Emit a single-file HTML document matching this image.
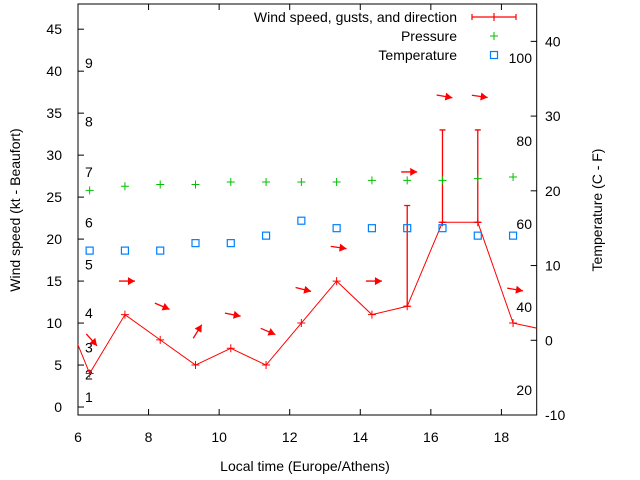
<!DOCTYPE html>
<html><head><meta charset="utf-8"><style>
body{margin:0;background:#fff}
svg{display:block;font-family:"Liberation Sans",sans-serif}
</style></head><body>
<svg id="chart" width="640" height="480" xmlns="http://www.w3.org/2000/svg"></svg>
<script>
const times=[5.33,6.33,7.33,8.33,9.33,10.33,11.33,12.33,13.33,14.33,15.33,16.33,17.33,18.33,19.33];
const wind=[14.3,4,11,8,5,7,5,10,15,11,12,22,22,10,9.1];
const gusts=[null,null,null,null,null,null,null,null,null,null,24,33,33,null,null];
const dirAngles=[null,48,0,23,-58,11,23,14,8,0,0,10,8,10,null];
const pressure=[null,25.8,26.3,26.5,26.5,26.8,26.8,26.8,26.8,27.0,27.0,27.0,27.2,27.4,null];
const temps=[null,12,12,12,13,13,14,16,15,15,15,15,14,14,null];
const xTicks=[6,8,10,12,14,16,18];
const yTicks=[0,5,10,15,20,25,30,35,40,45];
const tTicks=[-10,0,10,20,30,40];
const fTicks=[20,40,60,80,100];
const beaufort=[[1,1.2],[2,3.9],[3,7.1],[4,11.2],[5,17],[6,22],[7,28],[8,34],[9,41]];

const L=78,R=536.7,T=4,B=415;
const X=t=>L+(t-6)/(19-6)*(R-L);
const Y=v=>B-(v+0.95)/(48+0.95)*(B-T);
const TY=c=>B-(c+10)/55*(B-T);
const svg=document.getElementById('chart');
const NS='http://www.w3.org/2000/svg';
function mk(tag,attrs,parent){const e=document.createElementNS(NS,tag);for(const k in attrs)e.setAttribute(k,attrs[k]);(parent||svg).appendChild(e);return e;}
function txt(s,x,y,anchor,name,extra){const e=mk('text',Object.assign({x:x,y:y,'text-anchor':anchor,'font-size':14,fill:'#000'},extra||{}));e.textContent=s;return e;}

// clip
const defs=mk('defs',{});const cp=mk('clipPath',{id:'c'},defs);mk('rect',{x:L,y:T,width:R-L,height:B-T},cp);

// axes ticks
xTicks.forEach(t=>{const x=X(t);
 mk('line',{x1:x,y1:B,x2:x,y2:B-6,stroke:'#000'});mk('line',{x1:x,y1:T,x2:x,y2:T+6,stroke:'#000'});
 txt(String(t),x,442,'middle','x-tick-label');});
yTicks.forEach(v=>{const y=Y(v);mk('line',{x1:L,y1:y,x2:L+6,y2:y,stroke:'#000'});
 txt(String(v),62,y+5,'end','y-tick-label');});
tTicks.forEach(c=>{const y=TY(c);mk('line',{x1:R,y1:y,x2:R-6,y2:y,stroke:'#000'});
 txt(String(c),545,y+5,'start','temp-tick-label');});
fTicks.forEach(f=>{txt(String(f),532,TY((f-32)*5/9)+5,'end','fahrenheit-label');});
beaufort.forEach(b=>{txt(String(b[0]),85,Y(b[1])+5,'start','beaufort-label');});

const frame=mk('rect',{x:L,y:T,width:R-L,height:B-T,fill:'none',stroke:'#000'});



txt('Wind speed (kt - Beaufort)',0,0,'middle','y-axis-title',{transform:'translate(20,210) rotate(-90)'});
txt('Temperature (C - F)',0,0,'middle','y2-axis-title',{transform:'translate(602,210) rotate(-90)'});
txt('Local time (Europe/Athens)',305,471,'middle','x-axis-title');

const g=mk('g',{'clip-path':'url(#c)'});


// wind line
const pts=times.map((t,i)=>X(t)+','+Y(wind[i])).join(' ');
const wl=mk('polyline',{points:pts,fill:'none',stroke:'#f00','stroke-width':1},g);


times.forEach((t,i)=>{const x=X(t),y=Y(wind[i]);
 const p=mk('path',{d:`M${x-4},${y}h8M${x},${y-4}v8`,stroke:'#f00'},g);
 
 
 if(gusts[i]!=null){const yg=Y(gusts[i]);
  const e=mk('path',{d:`M${x},${y}V${yg}M${x-3},${yg}h6M${x-3},${y}h6`,stroke:'#f00','stroke-width':1.3},g);
  
  }
 if(dirAngles[i]!=null){const base=Math.max(wind[i],gusts[i]||0)+4;const cx=x+2,cy=Y(base);
  const a=dirAngles[i]*Math.PI/180,c=Math.cos(a),s=Math.sin(a);
  const x1=cx-8*c,y1=cy-8*s,x2=cx+8*c,y2=cy+8*s;
  const hx=x2-7*c,hy=y2-7*s;
  const ar=mk('g',{},g);
  
  
  mk('line',{x1:x1,y1:y1,x2:x2,y2:y2,stroke:'#f00','stroke-width':1.3},ar);
  mk('polygon',{points:`${x2},${y2} ${hx-4*s},${hy+4*c} ${hx+4*s},${hy-4*c}`,fill:'#f00'},ar);}
 if(pressure[i]!=null){const py=Y(pressure[i]);
  const pp=mk('path',{d:`M${x-4},${py}h8M${x},${py-4}v8`,stroke:'#00c000'},g);
  
  }
 if(temps[i]!=null){const ty=TY(temps[i]);
  const r=mk('rect',{x:x-3.5,y:ty-3.5,width:7,height:7,fill:'none',stroke:'#0080ff','stroke-width':1.2},g);
  
  }
});

// legend
const lg=mk('g',{});


txt('Wind speed, gusts, and direction',457,22,'end','legend-wind-label');
txt('Pressure',457,41,'end','legend-pressure-label');
txt('Temperature',457,60,'end','legend-temperature-label');
mk('path',{d:'M472,17h44M472,14v6M516,14v6M494,13v8',stroke:'#f00','stroke-width':1.2},lg);
mk('path',{d:'M490,36h8M494,32v8',stroke:'#00c000'},lg);
mk('rect',{x:490.5,y:51.5,width:7,height:7,fill:'none',stroke:'#0080ff','stroke-width':1.2},lg);
</script>
</body></html>
